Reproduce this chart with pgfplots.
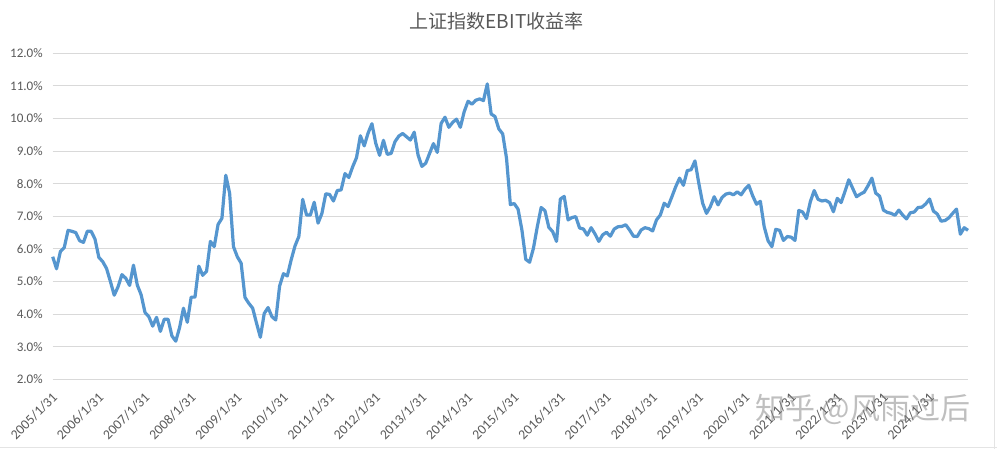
\documentclass[border=0pt]{standalone}
\usepackage{fontspec}
\usepackage{pgfplots}
\pgfplotsset{compat=1.18}
\setmainfont{Carlito}
\newfontfamily\cjk{Noto Sans CJK SC}
\definecolor{gridc}{HTML}{D9D9D9}
\definecolor{textc}{HTML}{595959}
\definecolor{linec}{HTML}{5596CF}
\begin{document}
\begin{tikzpicture}[x=1pt,y=1pt]
\fill[white] (0,0) rectangle (747.75,336.75);
\useasboundingbox (0,0) rectangle (747.75,336.75);
\draw[gridc!70,line width=0.6pt] (0,1.2) -- (747.75,1.2);
\draw[gridc!70,line width=0.6pt] (746,0) -- (746,336.75);
\begin{axis}[
  at={(39.525pt,52.275pt)}, anchor=south west,
  scale only axis, width=686.5pt, height=244.5pt,
  xmin=0, xmax=238, ymin=2, ymax=12,
  axis line style={draw=none},
  clip=false,
  tick style={draw=none},
  ymajorgrids, grid style={gridc,line width=0.75pt},
  ytick={2,3,...,12},
  yticklabel={\pgfmathprintnumber[fixed,fixed zerofill,precision=1,/pgf/number format/assume math mode=true]{\tick}\%},
  yticklabel style={font=\fontsize{9.8}{11}\selectfont,text=textc,xshift=-4pt},
  xtick={0,12,...,228},
  xticklabels={2005/1/31,2006/1/31,2007/1/31,2008/1/31,2009/1/31,2010/1/31,2011/1/31,2012/1/31,2013/1/31,2014/1/31,2015/1/31,2016/1/31,2017/1/31,2018/1/31,2019/1/31,2020/1/31,2021/1/31,2022/1/31,2023/1/31,2024/1/31},
  xticklabel style={font=\fontsize{10.3}{11}\selectfont,text=textc,rotate=45,anchor=north east,inner sep=1pt,xshift=-6pt,yshift=-4.5pt},
]
\addplot[linec,line width=2.4pt,line join=round,no marks] coordinates {
(0,5.76)(1,5.39)(2,5.92)(3,6.04)(4,6.57)(5,6.54)(6,6.50)(7,6.25)(8,6.20)(9,6.54)
(10,6.54)(11,6.30)(12,5.74)(13,5.61)(14,5.40)(15,5.00)(16,4.58)(17,4.84)(18,5.21)(19,5.10)
(20,4.88)(21,5.50)(22,4.89)(23,4.59)(24,4.05)(25,3.92)(26,3.63)(27,3.90)(28,3.47)(29,3.84)
(30,3.84)(31,3.33)(32,3.17)(33,3.59)(34,4.18)(35,3.75)(36,4.52)(37,4.52)(38,5.47)(39,5.19)
(40,5.31)(41,6.23)(42,6.07)(43,6.75)(44,6.94)(45,8.26)(46,7.71)(47,6.07)(48,5.76)(49,5.56)
(50,4.51)(51,4.33)(52,4.18)(53,3.72)(54,3.29)(55,4.02)(56,4.20)(57,3.92)(58,3.82)(59,4.86)
(60,5.24)(61,5.17)(62,5.66)(63,6.09)(64,6.38)(65,7.52)(66,7.04)(67,7.04)(68,7.43)(69,6.79)
(70,7.09)(71,7.69)(72,7.67)(73,7.47)(74,7.79)(75,7.81)(76,8.31)(77,8.19)(78,8.52)(79,8.80)
(80,9.47)(81,9.16)(82,9.55)(83,9.84)(84,9.24)(85,8.87)(86,9.33)(87,8.90)(88,8.93)(89,9.29)
(90,9.46)(91,9.54)(92,9.44)(93,9.34)(94,9.58)(95,8.88)(96,8.53)(97,8.63)(98,8.93)(99,9.23)
(100,8.96)(101,9.85)(102,10.04)(103,9.73)(104,9.88)(105,9.98)(106,9.73)(107,10.21)(108,10.53)(109,10.44)
(110,10.56)(111,10.60)(112,10.55)(113,11.06)(114,10.14)(115,10.06)(116,9.68)(117,9.53)(118,8.78)(119,7.36)
(120,7.39)(121,7.22)(122,6.58)(123,5.68)(124,5.59)(125,6.02)(126,6.68)(127,7.27)(128,7.17)(129,6.66)
(130,6.53)(131,6.23)(132,7.53)(133,7.61)(134,6.89)(135,6.96)(136,6.99)(137,6.64)(138,6.61)(139,6.42)
(140,6.65)(141,6.46)(142,6.23)(143,6.43)(144,6.51)(145,6.39)(146,6.61)(147,6.68)(148,6.69)(149,6.74)
(150,6.58)(151,6.39)(152,6.38)(153,6.58)(154,6.65)(155,6.62)(156,6.55)(157,6.89)(158,7.04)(159,7.40)
(160,7.30)(161,7.60)(162,7.91)(163,8.17)(164,7.95)(165,8.40)(166,8.43)(167,8.70)(168,8.01)(169,7.40)
(170,7.09)(171,7.30)(172,7.60)(173,7.35)(174,7.57)(175,7.68)(176,7.71)(177,7.66)(178,7.75)(179,7.66)
(180,7.83)(181,7.95)(182,7.63)(183,7.37)(184,7.46)(185,6.68)(186,6.25)(187,6.07)(188,6.60)(189,6.57)
(190,6.26)(191,6.38)(192,6.36)(193,6.26)(194,7.18)(195,7.13)(196,6.93)(197,7.45)(198,7.79)(199,7.52)
(200,7.47)(201,7.49)(202,7.42)(203,7.14)(204,7.55)(205,7.42)(206,7.76)(207,8.12)(208,7.86)(209,7.60)
(210,7.68)(211,7.74)(212,7.94)(213,8.17)(214,7.71)(215,7.62)(216,7.19)(217,7.12)(218,7.09)(219,7.03)
(220,7.19)(221,7.04)(222,6.92)(223,7.11)(224,7.13)(225,7.27)(226,7.28)(227,7.38)(228,7.53)(229,7.16)
(230,7.07)(231,6.85)(232,6.87)(233,6.95)(234,7.09)(235,7.22)(236,6.45)(237,6.65)(238,6.57)
};
\end{axis}
\node[font={\cjk\fontsize{14.3}{18}\selectfont},text=textc,anchor=center] at (372.4,320.5) {上证指数EBIT收益率};
\node[font={\cjk\fontsize{22.5}{28}\selectfont},text=gray,opacity=0.5,anchor=center] at (647,30) {知乎 @风雨过后};
\end{tikzpicture}
\end{document}
